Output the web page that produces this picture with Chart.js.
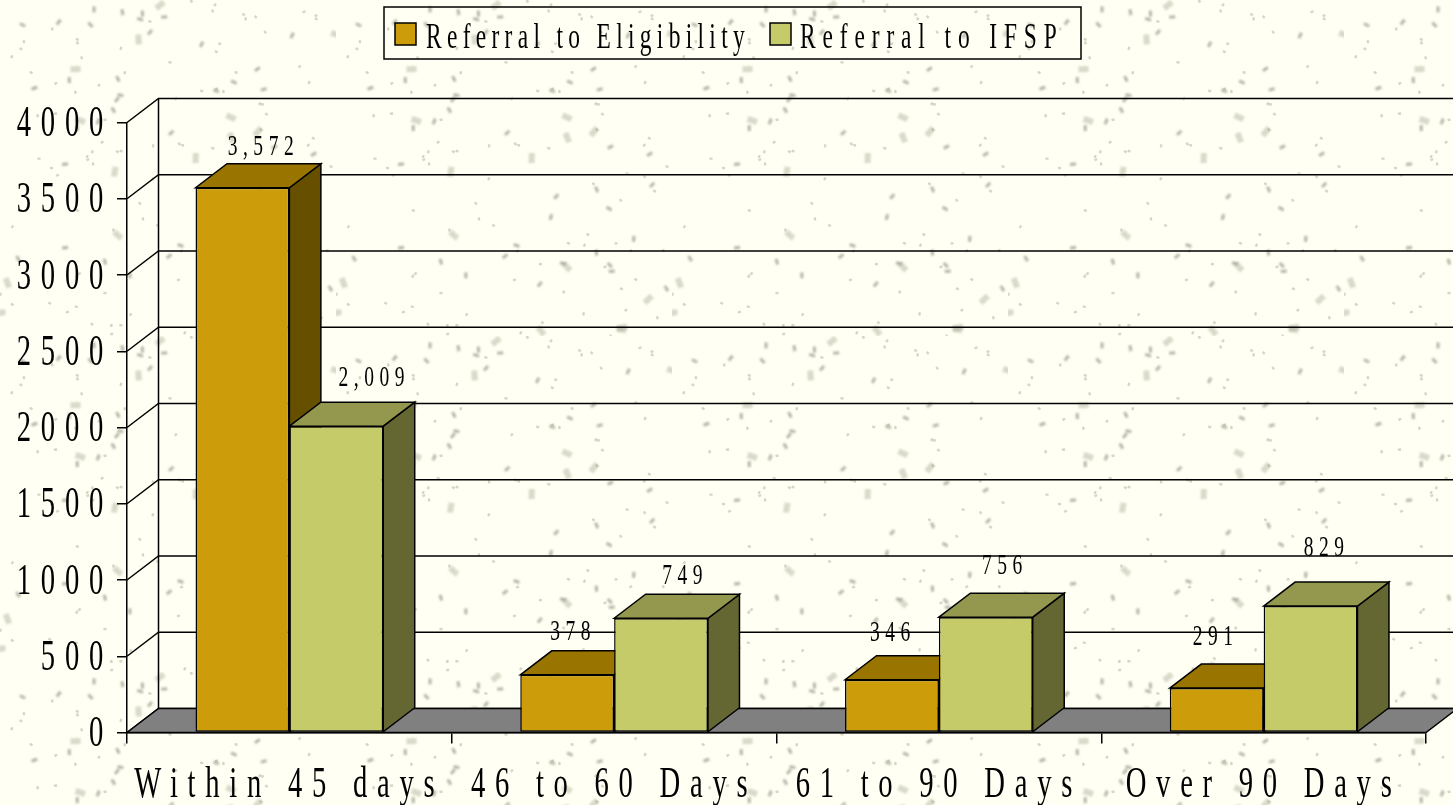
<!DOCTYPE html>
<html>
<head>
<meta charset="utf-8">
<script src="https://cdn.jsdelivr.net/npm/chart.js@4/dist/chart.umd.min.js"></script>
<style>
  html, body { margin: 0; padding: 0; background-color: #fffff3; overflow: hidden; }
  canvas { display: block; }
</style>
</head>
<body>
<canvas id="chart" width="1453" height="805"></canvas>
<script>
const categories = ['Within 45 days', '46 to 60 Days', '61 to 90 Days', 'Over 90 Days'];
const eligibility = [3572, 378, 346, 291];
const ifsp = [2009, 749, 756, 829];
const seriesNames = ['Referral to Eligibility', 'Referral to IFSP'];

// hand placed label nudges, the original labels are not centred on their bars
const labelNudge = [
    [[19, -42], [4, -44], [-1, -48], [-3, -52]],
    [[36, -49], [22, -43], [17, -52], [14, -59]]
];

const DEPTH_X = 31.5;
const DEPTH_Y = -24;
const LINE = 1.5;
const FONT = '"Liberation Serif"';
const faces = [
    { front: '#cc9c0a', top: '#997500', side: '#665000' },
    { front: '#c6cb6a', top: '#94984e', side: '#656733' }
];

// speckled paper background, a 336px tile like the original
function paperTile() {
    const tile = document.createElement('canvas');
    tile.width = tile.height = 336;
    const c = tile.getContext('2d');
    c.fillStyle = '#fffff3';
    c.fillRect(0, 0, 336, 336);
    let seed = 4711;
    const next = () => (seed = (seed * 16807) % 2147483647) / 2147483647;
    for (let i = 0; i < 165; i++) {
        const x = next() * 336, y = next() * 336, kind = next();
        c.save();
        c.translate(x, y);
        c.rotate(next() * Math.PI);
        if (kind < 0.12) {          // soft blotch
            c.fillStyle = 'rgba(150,150,130,0.35)';
            c.filter = 'blur(1.3px)';
            c.fillRect(-5, -3, 10, 6);
        } else if (kind < 0.4) {    // dark fleck
            c.fillStyle = 'rgba(120,120,105,0.55)';
            c.filter = 'blur(0.8px)';
            c.fillRect(-3, -1.5, 6, 3);
        } else {                    // dust
            c.fillStyle = 'rgba(165,165,145,0.45)';
            c.filter = 'blur(0.7px)';
            c.fillRect(-1.5, -1.2, 3, 2.4);
        }
        c.restore();
    }
    return tile.toDataURL();
}
document.body.style.backgroundImage = 'url(' + paperTile() + ')';

// the original type is a tall squeezed serif with wide tracking
const TICK_TRACKING = 15;
let tracking = TICK_TRACKING;
let textDrop = 2;
function squeezeText(ctx) {
    const rawFill = ctx.fillText.bind(ctx);
    ctx.fillText = function (text, x, y) {
        ctx.save();
        ctx.translate(x, y + textDrop);
        ctx.scale(0.65, 1);
        ctx.letterSpacing = tracking + 'px';
        rawFill(text, 0, 0);
        ctx.restore();
    };
}

function poly(ctx, points, fill) {
    ctx.beginPath();
    points.forEach((p, i) => i ? ctx.lineTo(p[0], p[1]) : ctx.moveTo(p[0], p[1]));
    ctx.closePath();
    ctx.fillStyle = fill;
    ctx.fill();
    ctx.stroke();
}

const walls = {
    id: 'walls',
    beforeDatasetsDraw(chart) {
        const { ctx, scales: { x, y } } = chart;
        const left = x.left, right = chart.width + 10, floor = y.getPixelForValue(0);
        ctx.save();
        ctx.strokeStyle = '#000';
        ctx.lineWidth = LINE;

        // back wall, side wall lines
        y.ticks.forEach(t => {
            const py = y.getPixelForValue(t.value);
            ctx.beginPath();
            ctx.moveTo(left, py);
            ctx.lineTo(left + DEPTH_X, py + DEPTH_Y);
            ctx.lineTo(right, py + DEPTH_Y);
            ctx.stroke();
        });
        ctx.beginPath();
        ctx.moveTo(left + DEPTH_X, y.top + DEPTH_Y);
        ctx.lineTo(left + DEPTH_X, floor + DEPTH_Y);
        ctx.stroke();

        poly(ctx, [[left, floor], [left + DEPTH_X, floor + DEPTH_Y],
                   [x.right + DEPTH_X, floor + DEPTH_Y], [x.right, floor]], '#808080');

        // sides and tops of the bars, the fronts are the library's own bars
        chart.data.datasets.forEach((ds, i) => {
            chart.getDatasetMeta(i).data.forEach(bar => {
                const l = bar.x - bar.width / 2, r = bar.x + bar.width / 2;
                poly(ctx, [[r, bar.y], [r + DEPTH_X, bar.y + DEPTH_Y],
                           [r + DEPTH_X, bar.base + DEPTH_Y], [r, bar.base]], faces[i].side);
                poly(ctx, [[l, bar.y], [l + DEPTH_X, bar.y + DEPTH_Y],
                           [r + DEPTH_X, bar.y + DEPTH_Y], [r, bar.y]], faces[i].top);
            });
        });
        ctx.restore();
    },
    afterDatasetsDraw(chart) {
        const ctx = chart.ctx;
        ctx.save();
        textDrop = 0;
        ctx.fillStyle = '#000';
        ctx.textAlign = 'center';
        ctx.textBaseline = 'middle';
        ctx.font = '30px ' + FONT;
        tracking = 8.5;
        chart.data.datasets.forEach((ds, i) => {
            chart.getDatasetMeta(i).data.forEach((bar, j) => {
                const n = labelNudge[i][j];
                ctx.fillText(ds.data[j].toLocaleString('en-US'), bar.x + n[0] + 2, bar.y + n[1] + 1);
            });
        });

        // legend box
        ctx.strokeStyle = '#000';
        ctx.lineWidth = LINE;
        ctx.strokeRect(384, 7, 697, 52);
        ctx.textAlign = 'left';
        ctx.textBaseline = 'alphabetic';
        ctx.font = '36px ' + FONT;
        [[395, 426, 8.2], [770, 800, 10.6]].forEach((pos, i) => {
            ctx.fillStyle = faces[i].front;
            ctx.fillRect(pos[0], 23, 21, 22);
            ctx.strokeRect(pos[0], 23, 21, 22);
            ctx.fillStyle = '#000';
            tracking = pos[2];
            ctx.fillText(seriesNames[i], pos[1], 48);
        });
        ctx.restore();
        tracking = TICK_TRACKING;
        textDrop = 2;
    }
};

const ctx = document.getElementById('chart').getContext('2d');
squeezeText(ctx);

new Chart(ctx, {
    type: 'bar',
    data: {
        labels: categories,
        datasets: [
            { label: seriesNames[0], data: eligibility, backgroundColor: faces[0].front },
            { label: seriesNames[1], data: ifsp, backgroundColor: faces[1].front }
        ]
    },
    options: {
        responsive: false,
        animation: false,
        layout: { padding: { top: 122.5, right: 27, left: 0, bottom: 0 } },
        datasets: {
            bar: {
                categoryPercentage: 0.578,
                barPercentage: 1,
                borderColor: '#000',
                borderWidth: LINE,
                borderSkipped: false
            }
        },
        plugins: { legend: { display: false }, tooltip: { enabled: false } },
        scales: {
            x: {
                afterFit: s => { s.height = 72.5; },
                border: { color: '#000', width: LINE },
                grid: { drawOnChartArea: false, color: '#000', lineWidth: LINE, tickLength: 11 },
                ticks: { color: '#000', autoSkip: false, maxRotation: 0, padding: 14, font: { family: FONT, size: 44 } }
            },
            y: {
                min: 0,
                max: 4000,
                afterFit: s => { s.width = 127; },
                border: { color: '#000', width: LINE },
                grid: { drawOnChartArea: false, color: '#000', lineWidth: LINE, tickLength: 10 },
                ticks: {
                    stepSize: 500,
                    color: '#000',
                    padding: 4,
                    font: { family: FONT, size: 44 },
                    callback: v => String(v)
                }
            }
        }
    },
    plugins: [walls]
});
</script>
</body>
</html>
